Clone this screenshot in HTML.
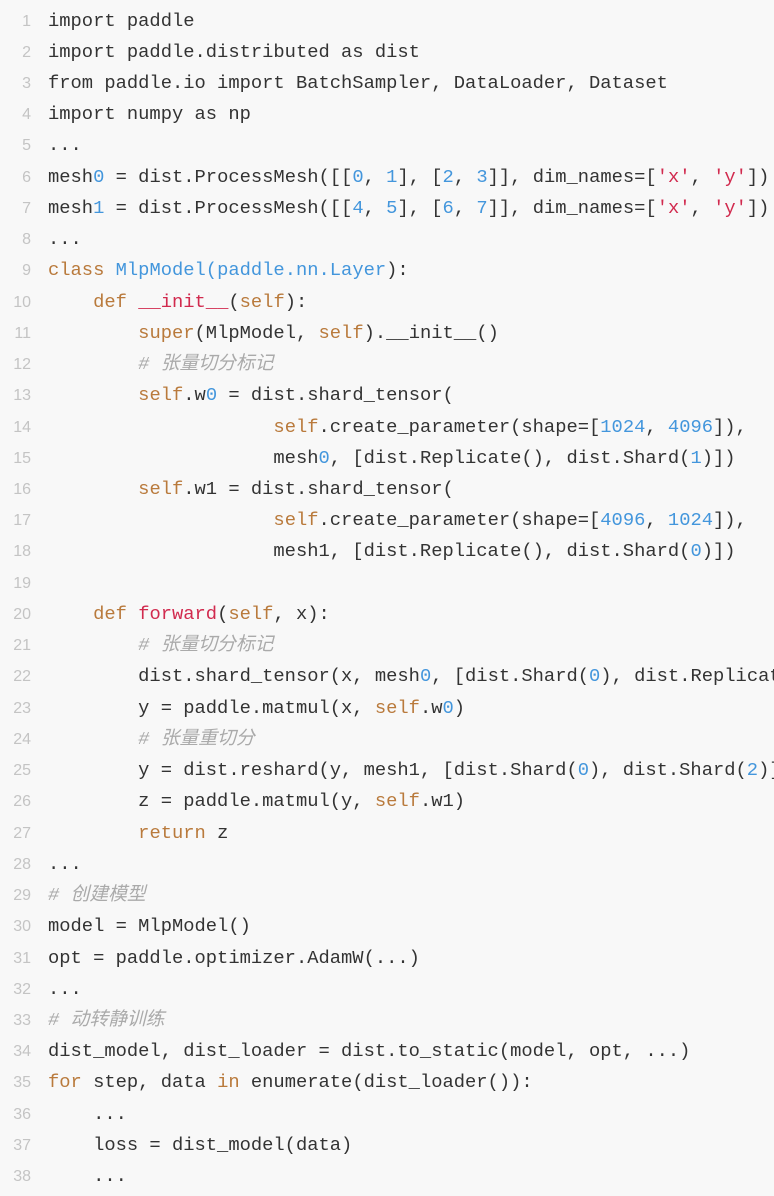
<!DOCTYPE html>
<html><head><meta charset="utf-8"><style>
body{margin:0;background:#f8f8f8;width:774px;height:1196px;overflow:hidden}
.c{position:absolute;left:0;top:5.5px;width:774px;overflow:hidden}
.l{height:31.24px;line-height:31.24px;white-space:pre;position:relative;font-family:"Liberation Mono","Noto Sans CJK SC",monospace;font-size:18.8px;color:#333;overflow:hidden}
.n{position:absolute;left:0;width:31px;text-align:right;color:#c4c4c4;font-family:"Liberation Sans",sans-serif;font-size:16px}
.t{position:absolute;left:48px}
.k{color:#b97a3c}.b{color:#4396dc}.r{color:#d12a4e}.s{color:#d12a4e}.m{color:#aaa;font-style:italic}
</style></head><body><div class="c">
<div class="l"><span class="n">1</span><span class="t">import paddle</span></div>
<div class="l"><span class="n">2</span><span class="t">import paddle.distributed as dist</span></div>
<div class="l"><span class="n">3</span><span class="t">from paddle.io import BatchSampler, DataLoader, Dataset</span></div>
<div class="l"><span class="n">4</span><span class="t">import numpy as np</span></div>
<div class="l"><span class="n">5</span><span class="t">...</span></div>
<div class="l"><span class="n">6</span><span class="t">mesh<span class="b">0</span> = dist.ProcessMesh([[<span class="b">0</span>, <span class="b">1</span>], [<span class="b">2</span>, <span class="b">3</span>]], dim_names=[<span class="s">'x'</span>, <span class="s">'y'</span>])</span></div>
<div class="l"><span class="n">7</span><span class="t">mesh<span class="b">1</span> = dist.ProcessMesh([[<span class="b">4</span>, <span class="b">5</span>], [<span class="b">6</span>, <span class="b">7</span>]], dim_names=[<span class="s">'x'</span>, <span class="s">'y'</span>])</span></div>
<div class="l"><span class="n">8</span><span class="t">...</span></div>
<div class="l"><span class="n">9</span><span class="t"><span class="k">class</span> <span class="b">MlpModel(paddle.nn.Layer</span>):</span></div>
<div class="l"><span class="n">10</span><span class="t">    <span class="k">def</span> <span class="r">__init__</span>(<span class="k">self</span>):</span></div>
<div class="l"><span class="n">11</span><span class="t">        <span class="k">super</span>(MlpModel, <span class="k">self</span>).__init__()</span></div>
<div class="l"><span class="n">12</span><span class="t">        <span class="m"># 张量切分标记</span></span></div>
<div class="l"><span class="n">13</span><span class="t">        <span class="k">self</span>.w<span class="b">0</span> = dist.shard_tensor(</span></div>
<div class="l"><span class="n">14</span><span class="t">                    <span class="k">self</span>.create_parameter(shape=[<span class="b">1024</span>, <span class="b">4096</span>]),</span></div>
<div class="l"><span class="n">15</span><span class="t">                    mesh<span class="b">0</span>, [dist.Replicate(), dist.Shard(<span class="b">1</span>)])</span></div>
<div class="l"><span class="n">16</span><span class="t">        <span class="k">self</span>.w1 = dist.shard_tensor(</span></div>
<div class="l"><span class="n">17</span><span class="t">                    <span class="k">self</span>.create_parameter(shape=[<span class="b">4096</span>, <span class="b">1024</span>]),</span></div>
<div class="l"><span class="n">18</span><span class="t">                    mesh1, [dist.Replicate(), dist.Shard(<span class="b">0</span>)])</span></div>
<div class="l"><span class="n">19</span><span class="t"></span></div>
<div class="l"><span class="n">20</span><span class="t">    <span class="k">def</span> <span class="r">forward</span>(<span class="k">self</span>, x):</span></div>
<div class="l"><span class="n">21</span><span class="t">        <span class="m"># 张量切分标记</span></span></div>
<div class="l"><span class="n">22</span><span class="t">        dist.shard_tensor(x, mesh<span class="b">0</span>, [dist.Shard(<span class="b">0</span>), dist.Replicate()])</span></div>
<div class="l"><span class="n">23</span><span class="t">        y = paddle.matmul(x, <span class="k">self</span>.w<span class="b">0</span>)</span></div>
<div class="l"><span class="n">24</span><span class="t">        <span class="m"># 张量重切分</span></span></div>
<div class="l"><span class="n">25</span><span class="t">        y = dist.reshard(y, mesh1, [dist.Shard(<span class="b">0</span>), dist.Shard(<span class="b">2</span>)])</span></div>
<div class="l"><span class="n">26</span><span class="t">        z = paddle.matmul(y, <span class="k">self</span>.w1)</span></div>
<div class="l"><span class="n">27</span><span class="t">        <span class="k">return</span> z</span></div>
<div class="l"><span class="n">28</span><span class="t">...</span></div>
<div class="l"><span class="n">29</span><span class="t"><span class="m"># 创建模型</span></span></div>
<div class="l"><span class="n">30</span><span class="t">model = MlpModel()</span></div>
<div class="l"><span class="n">31</span><span class="t">opt = paddle.optimizer.AdamW(...)</span></div>
<div class="l"><span class="n">32</span><span class="t">...</span></div>
<div class="l"><span class="n">33</span><span class="t"><span class="m"># 动转静训练</span></span></div>
<div class="l"><span class="n">34</span><span class="t">dist_model, dist_loader = dist.to_static(model, opt, ...)</span></div>
<div class="l"><span class="n">35</span><span class="t"><span class="k">for</span> step, data <span class="k">in</span> enumerate(dist_loader()):</span></div>
<div class="l"><span class="n">36</span><span class="t">    ...</span></div>
<div class="l"><span class="n">37</span><span class="t">    loss = dist_model(data)</span></div>
<div class="l"><span class="n">38</span><span class="t">    ...</span></div>
</div></body></html>
